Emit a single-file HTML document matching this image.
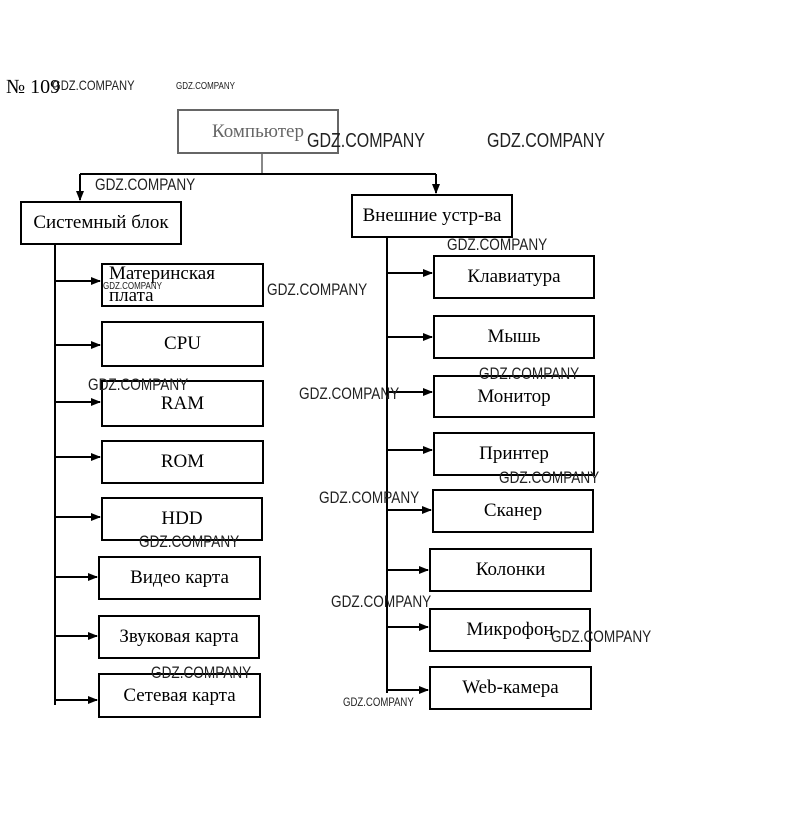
<!DOCTYPE html>
<html><head><meta charset="utf-8"><style>
body{margin:0;background:#fff;width:811px;height:813px;position:relative;overflow:hidden;font-family:"Liberation Serif",serif;}
.b{position:absolute;border:2px solid #000;box-sizing:border-box;display:flex;align-items:center;justify-content:center;font-size:19px;color:#000;background:#fff}
.w{position:absolute;font-family:"Liberation Sans",sans-serif;font-size:17px;color:#222;transform:scaleX(0.8);transform-origin:left top;white-space:nowrap}
.s{font-size:10px}
svg{position:absolute;left:0;top:0}
</style></head><body>
<svg width="811" height="813">
<defs><marker id="a" markerWidth="10" markerHeight="8" refX="9" refY="4" orient="auto" markerUnits="userSpaceOnUse"><path d="M0,0 L10,4 L0,8z" fill="#000"/></marker></defs>
<g stroke="#000" stroke-width="2" fill="none">
<line x1="262" y1="154" x2="262" y2="174" stroke="#888"/>
<line x1="80" y1="174" x2="436" y2="174"/>
<line x1="80" y1="174" x2="80" y2="200" marker-end="url(#a)"/>
<line x1="436" y1="174" x2="436" y2="193" marker-end="url(#a)"/>
<line x1="55" y1="245" x2="55" y2="705"/>
<line x1="55" y1="281" x2="100" y2="281" marker-end="url(#a)"/>
<line x1="55" y1="345" x2="100" y2="345" marker-end="url(#a)"/>
<line x1="55" y1="402" x2="100" y2="402" marker-end="url(#a)"/>
<line x1="55" y1="457" x2="100" y2="457" marker-end="url(#a)"/>
<line x1="55" y1="517" x2="100" y2="517" marker-end="url(#a)"/>
<line x1="55" y1="577" x2="97" y2="577" marker-end="url(#a)"/>
<line x1="55" y1="636" x2="97" y2="636" marker-end="url(#a)"/>
<line x1="55" y1="700" x2="97" y2="700" marker-end="url(#a)"/>
<line x1="387" y1="238" x2="387" y2="693"/>
<line x1="387" y1="273" x2="432" y2="273" marker-end="url(#a)"/>
<line x1="387" y1="337" x2="432" y2="337" marker-end="url(#a)"/>
<line x1="387" y1="392" x2="432" y2="392" marker-end="url(#a)"/>
<line x1="387" y1="450" x2="432" y2="450" marker-end="url(#a)"/>
<line x1="387" y1="510" x2="431" y2="510" marker-end="url(#a)"/>
<line x1="387" y1="570" x2="428" y2="570" marker-end="url(#a)"/>
<line x1="387" y1="627" x2="428" y2="627" marker-end="url(#a)"/>
<line x1="387" y1="690" x2="428" y2="690" marker-end="url(#a)"/>
</g></svg>
<div style="position:absolute;left:6px;top:76px;font-size:20px">№ 109</div>
<div class="b" style="left:177px;top:109px;width:162px;height:45px;border-color:#666;color:#666">Компьютер</div>
<div class="b" style="left:20px;top:201px;width:162px;height:44px">Системный блок</div>
<div class="b" style="left:351px;top:194px;width:162px;height:44px">Внешние устр-ва</div>
<div class="b" style="left:101px;top:263px;width:163px;height:44px;justify-content:flex-start;padding-left:6px;line-height:22px;text-align:left">Материнская<br>плата</div>
<div class="b" style="left:101px;top:321px;width:163px;height:46px">CPU</div>
<div class="b" style="left:101px;top:380px;width:163px;height:47px">RAM</div>
<div class="b" style="left:101px;top:440px;width:163px;height:44px">ROM</div>
<div class="b" style="left:101px;top:497px;width:162px;height:44px">HDD</div>
<div class="b" style="left:98px;top:556px;width:163px;height:44px">Видео карта</div>
<div class="b" style="left:98px;top:615px;width:162px;height:44px">Звуковая карта</div>
<div class="b" style="left:98px;top:673px;width:163px;height:45px">Сетевая карта</div>
<div class="b" style="left:433px;top:255px;width:162px;height:44px">Клавиатура</div>
<div class="b" style="left:433px;top:315px;width:162px;height:44px">Мышь</div>
<div class="b" style="left:433px;top:375px;width:162px;height:43px">Монитор</div>
<div class="b" style="left:433px;top:432px;width:162px;height:44px">Принтер</div>
<div class="b" style="left:432px;top:489px;width:162px;height:44px">Сканер</div>
<div class="b" style="left:429px;top:548px;width:163px;height:44px">Колонки</div>
<div class="b" style="left:429px;top:608px;width:162px;height:44px">Микрофон</div>
<div class="b" style="left:429px;top:666px;width:163px;height:44px">Web-камера</div>
<div class="w" style="left:52px;top:77px;font-size:14px">GDZ.COMPANY</div>
<div class="w s" style="left:176px;top:81px">GDZ.COMPANY</div>
<div class="w" style="left:307px;top:130px;font-size:20px">GDZ.COMPANY</div>
<div class="w" style="left:487px;top:130px;font-size:20px">GDZ.COMPANY</div>
<div class="w" style="left:95px;top:175px">GDZ.COMPANY</div>
<div class="w" style="left:447px;top:235px">GDZ.COMPANY</div>
<div class="w s" style="left:103px;top:281px">GDZ.COMPANY</div>
<div class="w" style="left:267px;top:280px">GDZ.COMPANY</div>
<div class="w" style="left:479px;top:364px">GDZ.COMPANY</div>
<div class="w" style="left:88px;top:375px">GDZ.COMPANY</div>
<div class="w" style="left:299px;top:384px">GDZ.COMPANY</div>
<div class="w" style="left:499px;top:468px">GDZ.COMPANY</div>
<div class="w" style="left:319px;top:488px">GDZ.COMPANY</div>
<div class="w" style="left:139px;top:532px">GDZ.COMPANY</div>
<div class="w" style="left:331px;top:592px">GDZ.COMPANY</div>
<div class="w" style="left:551px;top:627px">GDZ.COMPANY</div>
<div class="w" style="left:151px;top:663px">GDZ.COMPANY</div>
<div class="w" style="left:343px;top:695px;font-size:12px">GDZ.COMPANY</div>
</body></html>
